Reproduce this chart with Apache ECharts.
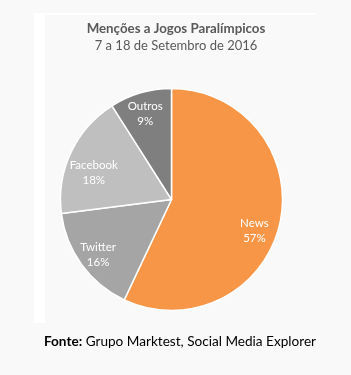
<!DOCTYPE html>
<html>
<head>
<meta charset="utf-8">
<script src="https://cdn.jsdelivr.net/npm/echarts@6/dist/echarts.min.js"></script>
<style>
  html, body { margin: 0; padding: 0; background: #f9f9f9; }
  #frame {
    position: absolute; left: 34px; top: 13px; width: 271px; height: 308px;
    border-left: 11px solid #ffffff; border-top: 2px solid #ffffff;
  }
  #chart { position: absolute; left: 0; top: 0; width: 351px; height: 375px; }
</style>
</head>
<body>
<div id="frame"></div>
<div id="chart"></div>
<script>
// fatias do gráfico
var categorias = ['News', 'Twitter', 'Facebook', 'Outros']
var valores = [57, 16, 18, 9]
var cores = ['#F79646', '#A5A5A5', '#BFBFBF', '#7F7F7F']
// pequenos acertos da posição das etiquetas (px), como no Excel
var ajusteEtiquetas = [[-2, 12], [-3, 4], [1, 10], [-2, -2]]

var fonte = 'Lato, "Open Sans", sans-serif'

var myChart = echarts.init(document.getElementById('chart'))
myChart.setOption({
  animation: false,
  title: [{
    text: 'Menções a Jogos Paralímpicos',
    subtext: '7 a 18 de Setembro de 2016',
    left: 171,
    top: 17,
    textAlign: 'center',
    itemGap: 4,
    textStyle: { color: '#595959', fontSize: 13.3, fontWeight: 'bold', fontFamily: fonte },
    subtextStyle: { color: '#595959', fontSize: 13, fontFamily: fonte }
  }, {
    text: '{b|Fonte:} Grupo Marktest, Social Media Explorer',
    left: 175,
    top: 330,
    textAlign: 'center',
    textStyle: {
      color: '#000000', fontSize: 13.6, fontWeight: 'normal', fontFamily: fonte,
      rich: { b: { fontWeight: 'bold', fontSize: 13.6, fontFamily: fonte, color: '#000000' } }
    }
  }],
  series: [{
    type: 'pie',
    center: [171.5, 199.5],
    radius: [0, 111],
    startAngle: 90,
    clockwise: true,
    silent: true,
    label: { show: false },
    labelLine: { show: false },
    itemStyle: { borderColor: '#ffffff', borderWidth: 1.5 },
    data: categorias.map(function (nome, i) {
      return { name: nome, value: valores[i], itemStyle: { color: cores[i] } }
    })
  }, {
    // série transparente só para posicionar as etiquetas
    type: 'pie',
    center: [171.5, 199.5],
    radius: [57, 111],
    startAngle: 90,
    clockwise: true,
    silent: true,
    itemStyle: { color: 'rgba(0,0,0,0)' },
    label: {
      show: true,
      position: 'inside',
      formatter: '{b}\n{d}%',
      color: '#ffffff',
      fontSize: 11.5,
      lineHeight: 15,
      fontFamily: fonte
    },
    labelLine: { show: false },
    data: categorias.map(function (nome, i) {
      return { name: nome, value: valores[i], label: { offset: ajusteEtiquetas[i] } }
    })
  }]
})
</script>
</body>
</html>
